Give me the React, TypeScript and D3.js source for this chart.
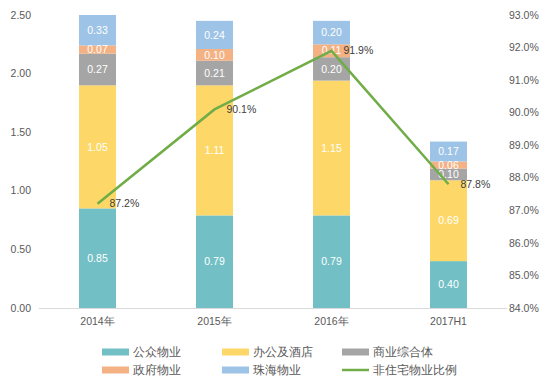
import React from 'react';
import * as d3 from 'd3';

const categories = ['2014年', '2015年', '2016年', '2017H1'];
const seriesNames = ['公众物业', '办公及酒店', '商业综合体', '政府物业', '珠海物业'];
const publicVals = [0.85, 0.79, 0.79, 0.40];
const officeVals = [1.05, 1.11, 1.15, 0.69];
const commercialVals = [0.27, 0.21, 0.20, 0.10];
const governmentVals = [0.07, 0.10, 0.11, 0.06];
const zhuhaiVals = [0.33, 0.24, 0.20, 0.17];
const ratioVals = [87.2, 90.1, 91.9, 87.8];
const lineName = '非住宅物业比例';
const leftTicks = [0, 0.5, 1, 1.5, 2, 2.5];
const rightTicks = [84, 85, 86, 87, 88, 89, 90, 91, 92, 93];

const colors = ['#72BFC5', '#FDD868', '#A5A5A5', '#F4B183', '#9DC3E6'];
const lineColor = '#70AD47';

const W = 554;
const H = 390;
const margin = { top: 15, right: 47, bottom: 82, left: 39 };

const App = () => {
  const plotW = W - margin.left - margin.right;
  const x = d3.scaleBand().domain(categories).range([margin.left, margin.left + plotW]).paddingInner(0.684).paddingOuter(0.342);
  const y = d3.scaleLinear().domain([0, 2.5]).range([H - margin.bottom, margin.top]);
  const y2 = d3.scaleLinear().domain([84, 93]).range([H - margin.bottom, margin.top]);

  const table = categories.map((c, i) => ({
    cat: c,
    s0: publicVals[i], s1: officeVals[i], s2: commercialVals[i], s3: governmentVals[i], s4: zhuhaiVals[i],
  }));
  const stack = d3.stack<any>().keys(['s0', 's1', 's2', 's3', 's4'])(table);

  const line = d3.line<number>()
    .x((_, i) => (x(categories[i]) as number) + x.bandwidth() / 2)
    .y(d => y2(d));

  const font = '"Liberation Sans", Arial, sans-serif';
  const axisColor = '#595959';
  const bottom = H - margin.bottom;

  const legendItems = [...seriesNames.map((n, i) => ({ name: n, color: colors[i], line: false })), { name: lineName, color: lineColor, line: true }];

  return (
    <svg width={W} height={H} style={{ position: 'absolute', left: 0, top: 0, fontFamily: font }}>
      <defs>
        <clipPath id="plot">
          <rect x={margin.left} y={margin.top} width={plotW} height={bottom - margin.top} />
        </clipPath>
      </defs>
      <rect width={W} height={H} fill="#fff" />
      {/* left axis */}
      {leftTicks.map(t => (
        <text key={t} x={31} y={y(t)} dy="0.35em" textAnchor="end" fontSize={10.5} fill={axisColor}>{t.toFixed(2)}</text>
      ))}
      {/* right axis */}
      {rightTicks.map(t => (
        <text key={t} x={509} y={y2(t)} dy="0.35em" textAnchor="start" fontSize={10.5} fill={axisColor}>{t.toFixed(1)}%</text>
      ))}
      <line x1={margin.left} x2={margin.left + plotW} y1={bottom + 0.5} y2={bottom + 0.5} stroke="#D9D9D9" />
      {categories.map(c => (
        <text key={c} x={(x(c) as number) + x.bandwidth() / 2} y={bottom + 17} textAnchor="middle" fontSize={10.5} fill={axisColor}>{c}</text>
      ))}
      {/* bars */}
      <g clipPath="url(#plot)">
        {stack.map((layer, si) => layer.map((d, i) => (
          <rect key={`${si}-${i}`} x={x(categories[i])} y={y(d[1])} width={x.bandwidth()} height={y(d[0]) - y(d[1])} fill={colors[si]} />
        )))}
      </g>
      {stack.map((layer, si) => layer.map((d, i) => (
        <text key={`l${si}-${i}`} x={(x(categories[i]) as number) + x.bandwidth() / 2} y={y((d[0] + Math.min(d[1], 2.5)) / 2)} dy="0.35em"
          textAnchor="middle" fontSize={10.5} fill="#fff">{(d[1] - d[0]).toFixed(2)}</text>
      )))}
      {/* line */}
      <path d={line(ratioVals) as string} fill="none" stroke={lineColor} strokeWidth={2.5} />
      {ratioVals.map((v, i) => (
        <text key={i} x={(x(categories[i]) as number) + x.bandwidth() / 2 + 12} y={y2(v)} dy="0.35em" fontSize={10.5} fill="#404040">{v.toFixed(1)}%</text>
      ))}
      {/* legend */}
      {legendItems.map((it, i) => {
        const col = i % 3;
        const row = Math.floor(i / 3);
        const lx = 102 + col * 120;
        const ly = 352 + row * 18;
        return (
          <g key={it.name}>
            {it.line
              ? <line x1={lx} x2={lx + 27} y1={ly} y2={ly} stroke={it.color} strokeWidth={2.5} />
              : <rect x={lx} y={ly - 3.5} width={27} height={7} fill={it.color} />}
            <text x={lx + 31} y={ly} dy="0.35em" fontSize={11.5} fill={axisColor}>{it.name}</text>
          </g>
        );
      })}
    </svg>
  );
};

export default App;
